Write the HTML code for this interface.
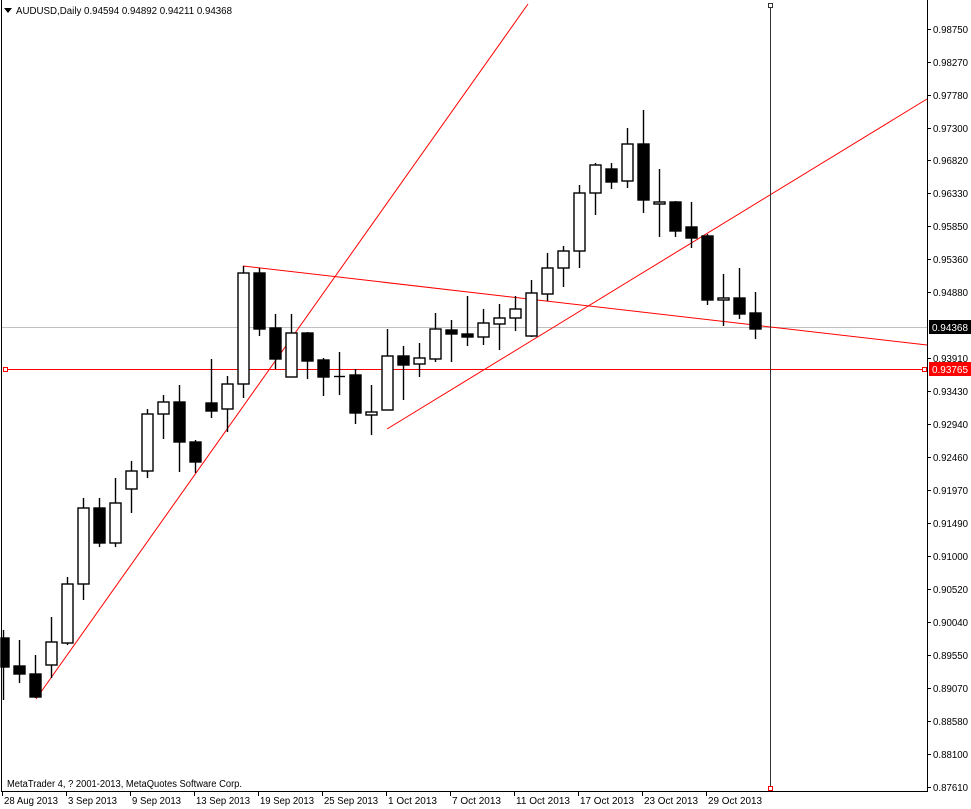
<!DOCTYPE html>
<html><head><meta charset="utf-8"><style>
html,body{margin:0;padding:0;background:#fff;}
svg{display:block;font-family:"Liberation Sans",Tahoma,sans-serif;}
</style></head><body>
<svg width="971" height="809" viewBox="0 0 971 809" xmlns="http://www.w3.org/2000/svg">
<rect width="971" height="809" fill="#fff"/>
<line x1="1.5" y1="0" x2="1.5" y2="791" stroke="#000"/>
<line x1="927.5" y1="0" x2="927.5" y2="791" stroke="#000"/>
<line x1="1" y1="791.5" x2="928" y2="791.5" stroke="#000"/>
<line x1="2" y1="327.5" x2="927" y2="327.5" stroke="#c0c0c0"/>
<g stroke="#ff0000" stroke-width="1" fill="none">
<line x1="36" y1="699" x2="528" y2="4"/>
<line x1="243" y1="266" x2="927" y2="345"/>
<line x1="387" y1="429" x2="927" y2="99"/>
<line x1="5" y1="369.5" x2="927" y2="369.5"/>
<rect x="3.5" y="367.5" width="4" height="4" fill="#fff"/>
<rect x="922.5" y="367.5" width="4" height="4" fill="#fff"/>
</g>
<line x1="770.5" y1="4" x2="770.5" y2="791" stroke="#333"/>
<rect x="768.5" y="3.5" width="4" height="4" fill="#fff" stroke="#333"/>
<rect x="768.5" y="786.5" width="4" height="4" fill="#fff" stroke="#ff0000"/>
<g stroke="#000" stroke-width="1.4" id="c"></g>
<g font-size="10" fill="#000" id="pa"></g>
<rect x="929" y="320" width="42" height="14" fill="#000"/>
<text x="932" y="331" font-size="10" fill="#fff" textLength="36" lengthAdjust="spacingAndGlyphs">0.94368</text>
<rect x="929" y="362" width="42" height="14" fill="#ff0000"/>
<text x="932" y="373" font-size="10" fill="#fff" textLength="36" lengthAdjust="spacingAndGlyphs">0.93765</text>
<polygon points="4,8 12,8 8,13" fill="#000"/>
<text x="16" y="14" font-size="10" fill="#000" textLength="216" lengthAdjust="spacingAndGlyphs">AUDUSD,Daily  0.94594 0.94892 0.94211 0.94368</text>
<text x="7" y="787" font-size="10" fill="#000" textLength="235" lengthAdjust="spacingAndGlyphs">MetaTrader 4, ? 2001-2013, MetaQuotes Software Corp.</text>
<g font-size="10" fill="#000" id="da"></g>
</svg>
<script>
var ns="http://www.w3.org/2000/svg";
function el(p,t,a,txt){var e=document.createElementNS(ns,t);for(var k in a)e.setAttribute(k,a[k]);if(txt)e.textContent=txt;p.appendChild(e);return e;}
var C=[[3,630,700,638,667,1],[19,640,683,666,674,1],[35,655,698,674,697,1],[51,617,678,642,665,0],[67,577,645,584,643,0],[83,498,600,508,584,0],[99,498,547,508,543,1],[115,478,547,503,543,0],[131,461,513,471,489,0],[147,409,478,414,471,0],[163,395,439,402,414,0],[179,385,472,402,442,1],[195,440,473,442,462,1],[211,359,418,403,411,1],[227,376,432,384,409,0],[243,266,398,273,384,0],[259,268,336,273,329,1],[275,314,369,328,359,1],[291,314,377,333,377,0],[307,332,379,333,361,1],[323,358,396,360,377,1],[339,352,395,376,376,0],[355,369,424,375,413,1],[371,385,435,412,415,0],[387,329,410,356,410,0],[403,346,400,356,365,1],[419,343,377,358,364,0],[435,313,362,329,359,0],[451,320,362,330,334,1],[467,296,346,334,337,1],[483,309,345,323,337,0],[499,304,350,318,324,0],[515,296,331,309,318,0],[531,280,337,293,336,0],[547,253,301,268,294,0],[563,246,287,251,268,0],[579,185,268,193,251,0],[595,163,215,165,193,0],[611,163,189,169,182,1],[627,128,188,144,181,0],[643,110,213,144,200,1],[659,169,237,202,204,0],[675,201,237,202,231,1],[691,202,248,227,238,1],[707,234,305,236,300,1],[723,274,326,298,300,0],[739,268,319,298,314,1],[755,292,339,313,329,1]];
var g=document.getElementById('c');
C.forEach(function(c){
 el(g,'line',{x1:c[0]+.5,y1:c[1],x2:c[0]+.5,y2:c[2]});
 var h=Math.max(c[4]-c[3],1);
 if(h<=1){el(g,'line',{x1:c[0]-5,y1:c[3]+.5,x2:c[0]+6,y2:c[3]+.5});return;}
 var x0=c[0]<6?1:c[0]-5;
 el(g,'rect',{x:x0,y:c[3],width:c[0]+6-x0,height:h,fill:c[5]?'#000':'#fff'});
});
var L=["0.98750","0.98270","0.97780","0.97300","0.96820","0.96330","0.95850","0.95360","0.94880",null,"0.93910","0.93430","0.92940","0.92460","0.91970","0.91490","0.91000","0.90520","0.90040","0.89550","0.89070","0.88580","0.88100","0.87610"];
var pa=document.getElementById('pa');
var ys=[29,62,95,128,160,193,226,259,292,null,358,391,424,457,490,523,556,589,622,655,688,721,754,787];
L.forEach(function(t,i){if(!t)return;var y=ys[i];el(pa,'line',{x1:928,y1:y+.5,x2:931,y2:y+.5,stroke:'#000'});el(pa,'text',{x:933,y:y+4,textLength:35,lengthAdjust:'spacingAndGlyphs'},t);});
var D=["28 Aug 2013","3 Sep 2013","9 Sep 2013","13 Sep 2013","19 Sep 2013","25 Sep 2013","1 Oct 2013","7 Oct 2013","11 Oct 2013","17 Oct 2013","23 Oct 2013","29 Oct 2013"];
var da=document.getElementById('da');
D.forEach(function(t,i){var x=2+i*64;el(da,'line',{x1:x+.5,y1:792,x2:x+.5,y2:796,stroke:'#000'});var w=t.length>=11?54:49;el(da,'text',{x:x+2,y:804,textLength:w,lengthAdjust:'spacingAndGlyphs'},t);});
</script>
</body></html>
